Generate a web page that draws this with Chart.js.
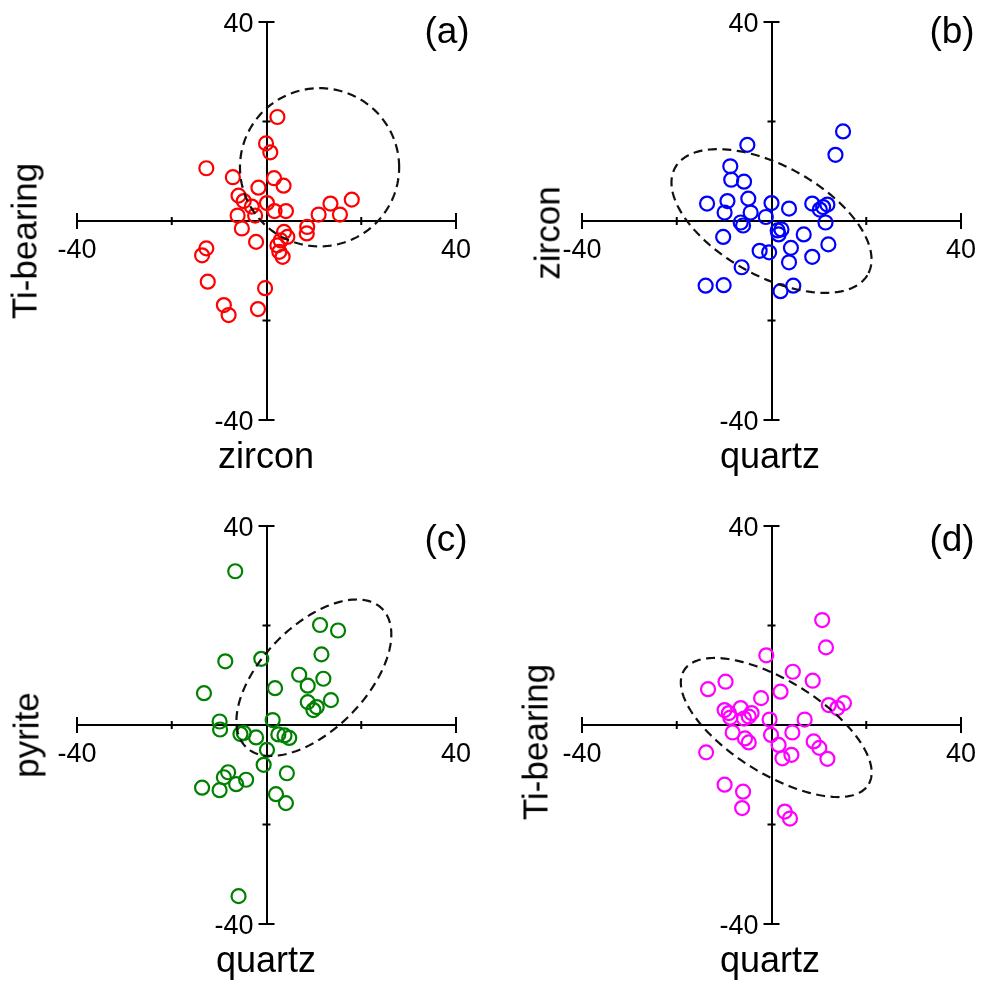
<!DOCTYPE html>
<html><head><meta charset="utf-8">
<script src="https://cdn.jsdelivr.net/npm/chart.js@4.4.0/dist/chart.umd.min.js"></script>
<style>
html,body{margin:0;padding:0;background:#fff;overflow:hidden;}
body{width:982px;height:986px;position:relative;font-family:"Liberation Sans",Arial,sans-serif;}
.panel{position:absolute;width:459px;height:458px;}
.lbl{position:absolute;line-height:1;white-space:nowrap;color:#000;transform:translate(-50%,-50%);}
.rot{transform:translate(-50%,-50%) rotate(-90deg);}
</style></head><body>
<div class="panel" style="left:37px;top:-8px"><canvas id="ca"></canvas></div>
<div class="panel" style="left:542px;top:-8px"><canvas id="cb"></canvas></div>
<div class="panel" style="left:37px;top:496px"><canvas id="cc"></canvas></div>
<div class="panel" style="left:542px;top:496px"><canvas id="cd"></canvas></div>

<div class="lbl rot" style="left:24px;top:241px;font-size:35px">Ti-bearing</div>
<div class="lbl" style="left:266px;top:456px;font-size:36px">zircon</div>
<div class="lbl" style="left:447px;top:30px;font-size:37px">(a)</div>

<div class="lbl rot" style="left:547px;top:233px;font-size:35px">zircon</div>
<div class="lbl" style="left:770px;top:456px;font-size:36px">quartz</div>
<div class="lbl" style="left:952px;top:30px;font-size:37px">(b)</div>

<div class="lbl rot" style="left:26px;top:735px;font-size:35px">pyrite</div>
<div class="lbl" style="left:266px;top:960px;font-size:36px">quartz</div>
<div class="lbl" style="left:446px;top:538px;font-size:37px">(c)</div>

<div class="lbl rot" style="left:535px;top:742px;font-size:35px">Ti-bearing</div>
<div class="lbl" style="left:770px;top:960px;font-size:36px">quartz</div>
<div class="lbl" style="left:952px;top:538px;font-size:37px">(d)</div>

<script>
// ---- data ----
const tickValues = [-40, -20, 0, 20, 40];
const tickLabels = ['-40', '', '', '', '40'];

// (a) zircon vs Ti-bearing
const aX = [2.3, -0.1, 0.8, -12.7, -7.1, 1.6, 3.6, -1.7, -5.9, -4.8, -3.1, 0.1, 1.7, 4.1, -6.1, -2.4, -5.2, -2.2, 11.0, 13.5, 15.5, 18.0, 3.7, 8.6, 8.5, 4.4, 3.0, 2.3, 2.7, 3.4, -12.7, -13.6, -12.4, -9.0, -8.0, -0.3, -1.8];
const aY = [20.9, 15.6, 13.8, 10.6, 8.8, 8.6, 7.1, 6.7, 5.1, 4.0, 2.9, 3.6, 2.0, 2.0, 1.1, 1.1, -1.5, -4.2, 1.3, 3.5, 1.3, 4.3, -2.2, -1.2, -2.5, -3.2, -3.9, -4.9, -6.2, -7.2, -5.5, -6.9, -12.2, -16.9, -18.9, -13.5, -17.7];
// (b) quartz vs zircon
const bX = [15.1, 13.5, -5.1, -8.7, -8.5, -5.8, -4.9, -13.6, -9.3, 0.0, 3.7, 8.6, 10.2, 10.9, 11.8, -9.9, -4.4, -1.2, -6.5, -6.0, 11.4, 1.3, 2.1, 1.5, -10.2, 6.8, 12.0, -2.5, -0.5, 4.1, 8.6, 3.7, -6.3, -13.9, -10.1, 4.6, 1.9];
const bY = [18.0, 13.3, 15.3, 11.0, 8.3, 7.9, 4.5, 3.5, 4.0, 3.6, 2.5, 3.5, 2.3, 2.8, 3.3, 1.7, 1.7, 0.8, -0.3, -0.9, -0.3, -1.9, -1.7, -2.7, -3.2, -2.7, -4.7, -6.0, -6.3, -5.4, -7.2, -8.3, -9.3, -13.0, -12.9, -13.0, -14.1];
// (c) quartz vs pyrite
const cX = [-6.6, 11.3, 15.1, 11.6, -1.1, -8.7, 6.9, 12.0, 8.7, 1.8, -13.2, 13.6, 8.7, 10.6, 9.9, -9.9, -9.8, 1.3, -5.5, -4.8, -2.2, 2.5, 3.8, 4.8, 0.1, -0.6, -8.1, -9.0, -13.6, -9.9, -6.4, -4.3, 4.3, 2.0, 4.1, -5.9];
const cY = [30.9, 20.1, 19.0, 14.2, 13.3, 12.8, 10.1, 9.3, 7.9, 7.4, 6.4, 5.0, 4.6, 3.6, 3.0, 0.7, -0.9, 1.0, -1.8, -1.6, -2.5, -1.9, -2.1, -2.6, -5.0, -8.0, -9.5, -10.5, -12.6, -13.1, -11.9, -11.0, -9.7, -13.9, -15.7, -34.4];
// (d) quartz vs Ti-bearing
const dX = [10.7, 11.5, -1.1, 4.5, 8.7, -9.7, -13.4, 1.9, -2.2, 12.1, 13.9, 15.3, -9.9, -9.0, -6.5, -4.2, -4.8, -5.8, -8.7, -0.4, 7.0, -8.2, -0.1, 4.4, -5.6, -4.8, 1.5, 8.9, 10.1, 11.8, -13.8, 4.2, 2.3, -9.9, -6.0, -6.2, 2.8, 3.9];
const dY = [21.1, 15.6, 14.0, 10.7, 8.9, 8.7, 7.2, 6.7, 5.4, 4.0, 3.4, 4.4, 3.0, 2.4, 3.4, 2.4, 1.7, 1.3, 1.5, 1.1, 1.1, -1.5, -2.0, -1.5, -2.7, -3.5, -4.0, -3.3, -4.6, -6.8, -5.5, -6.0, -6.7, -12.0, -13.4, -16.7, -17.4, -18.8];

// confidence ellipses: [centerX, centerY, semiAxis1, semiAxis2, angleDeg]
const ellipseA = [11.2, 10.8, 16.8, 15.9, 0];
const ellipseB = [0.0, 0.0, 23.0, 11.2, -27];
const ellipseC = [10.0, 9.5, 20.0, 10.7, 43];
const ellipseD = [1.0, -0.5, 22.6, 9.5, -30];

const colors = ['#ff0000', '#0000ff', '#008000', '#ff00ff'];

const TICK_FONT = 27;

// ---- plugins ----
const decor = {
  id: 'decor',
  afterDatasetsDraw(chart, args, opts) {
    const ctx = chart.ctx, xs = chart.scales.x, ys = chart.scales.y;
    const e = opts.ellipse;
    if (e) {
      const th = e[4] * Math.PI / 180;
      ctx.save();
      ctx.strokeStyle = '#111';
      ctx.lineWidth = 2.2;
      ctx.setLineDash([9, 5.5]);
      ctx.beginPath();
      const N = 180;
      for (let i = 0; i <= N; i++) {
        const t = i / N * 2 * Math.PI;
        const ex = e[0] + e[2] * Math.cos(t) * Math.cos(th) - e[3] * Math.sin(t) * Math.sin(th);
        const ey = e[1] + e[2] * Math.cos(t) * Math.sin(th) + e[3] * Math.sin(t) * Math.cos(th);
        const px = xs.getPixelForValue(ex), py = ys.getPixelForValue(ey);
        if (i === 0) ctx.moveTo(px, py); else ctx.lineTo(px, py);
      }
      ctx.stroke();
      ctx.restore();
    }
    // crossing tick marks
    const x0 = xs.getPixelForValue(0), y0 = ys.getPixelForValue(0);
    ctx.save();
    ctx.strokeStyle = '#000';
    ctx.lineWidth = 2;
    ctx.beginPath();
    tickValues.forEach(v => {
      if (v === 0) return;
      const len = Math.abs(v) === 40 ? 8 : 4;
      const px = xs.getPixelForValue(v);
      ctx.moveTo(px, y0 - len); ctx.lineTo(px, y0 + len);
      const py = ys.getPixelForValue(v);
      ctx.moveTo(x0 - len, py); ctx.lineTo(x0 + len, py);
    });
    ctx.stroke();
    // y-axis tick labels, left of the vertical axis
    ctx.fillStyle = '#000';
    ctx.font = TICK_FONT + 'px "Liberation Sans", Arial, sans-serif';
    ctx.textAlign = 'right';
    ctx.textBaseline = 'alphabetic';
    tickValues.forEach((v, i) => {
      if (!tickLabels[i]) return;
      ctx.fillText(tickLabels[i], x0 - 13, ys.getPixelForValue(v) + 0.358 * TICK_FONT);
    });
    ctx.restore();
  }
};

function axisOpts(isX) {
  return {
    type: 'linear',
    min: -40, max: 40,
    position: isX ? { y: 0 } : { x: 0 },
    afterBuildTicks: s => { s.ticks = tickValues.map(v => ({ value: v })); },
    grid: { display: false, drawTicks: true, tickLength: 8 },
    border: { display: true, color: '#000', width: 2 },
    ticks: {
      display: isX,
      autoSkip: false,
      maxRotation: 0,
      color: '#000',
      padding: 5,
      font: { family: 'Liberation Sans', size: TICK_FONT },
      callback: (v) => tickLabels[tickValues.indexOf(v)]
    }
  };
}

function makeChart(id, xs, ys, color, ell) {
  const pts = xs.map((x, i) => ({ x: x, y: ys[i] }));
  new Chart(document.getElementById(id), {
    type: 'scatter',
    data: {
      datasets: [{
        data: pts,
        pointStyle: 'circle',
        pointRadius: 7,
        pointHoverRadius: 7,
        borderWidth: 2.2,
        borderColor: color,
        backgroundColor: 'rgba(0,0,0,0)'
      }]
    },
    options: {
      responsive: true,
      maintainAspectRatio: false,
      animation: false,
      events: [],
      layout: { padding: { left: 40, right: 40, top: 30, bottom: 30 } },
      plugins: { legend: { display: false }, tooltip: { enabled: false }, decor: { ellipse: ell } },
      scales: { x: axisOpts(true), y: axisOpts(false) }
    },
    plugins: [decor]
  });
}

makeChart('ca', aX, aY, colors[0], ellipseA);
makeChart('cb', bX, bY, colors[1], ellipseB);
makeChart('cc', cX, cY, colors[2], ellipseC);
makeChart('cd', dX, dY, colors[3], ellipseD);
</script>
</body></html>
